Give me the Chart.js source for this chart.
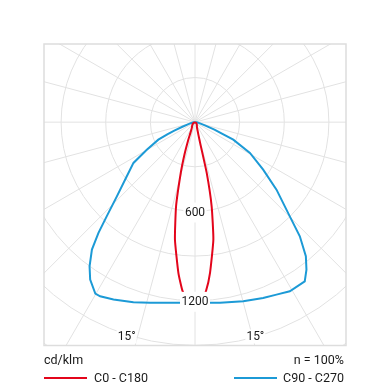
<!DOCTYPE html>
<html>
<head>
<meta charset="utf-8">
<script src="https://cdn.jsdelivr.net/npm/chart.js@4/dist/chart.umd.min.js"></script>
<style>
  html, body { margin: 0; padding: 0; background: #ffffff; }
  #wrap { position: relative; width: 390px; height: 390px; font-family: Roboto, "Liberation Sans", sans-serif; color: #1a1a1a; }
  #c { position: absolute; left: 0; top: 0; }
  .t { position: absolute; font-size: 12.5px; line-height: 14px; white-space: nowrap; }
  .ln { position: absolute; height: 2px; width: 43px; }
</style>
</head>
<body>
<div id="wrap">
  <canvas id="c" width="390" height="390"></canvas>
  <div class="t" id="unit" style="left:44px; top:353px;"></div>
  <div class="t" id="eff" style="right:46px; top:353px; text-align:right;"></div>
  <div class="ln" id="ln0" style="left:44px; top:377px;"></div>
  <div class="t" id="lg0" style="left:94px; top:371px;"></div>
  <div class="ln" id="ln1" style="left:234px; top:377px;"></div>
  <div class="t" id="lg1" style="left:283px; top:371px;"></div>
</div>
<script>
// ---- data (angles in degrees from nadir, negative = left half) ----
const seriesNames = ['C0 - C180', 'C90 - C270'];
const seriesColors = ['#e3051b', '#1c9ad6'];

const anglesC0C180 = [-90, -60, -45, -30, -26, -23, -20.9, -18, -15.7, -12.7, -9.7, -6.3, -4.2, -2, 0,
  2, 3.7, 5.7, 8.9, 11.2, 13, 13.8, 15, 17, 20, 25, 35, 45, 60, 90];
const valuesC0C180 = [0, 12, 25, 42, 55, 80, 125, 230, 353, 579, 800, 1018, 1138, 1195, 1230,
  1195, 1138, 1017, 798, 576, 350, 150, 90, 60, 40, 30, 22, 15, 8, 0];

const anglesC90C270 = [-90, -84, -78, -73, -70, -68, -66.5, -64.5, -60.3, -56.5, -51.6, -46.5, -43.2, -41.1,
  -39, -36.2, -33.7, -30.2, -28.6, -24.7, -18.9, -14, -7.9, 0, 7.9, 15.1, 21.2, 25.3, 29.3, 34.6, 37.1,
  39.6, 42.6, 45.2, 50.4, 55.2, 60.8, 65.4, 67, 69, 72, 78, 84, 90];
const valuesC90C270 = [0, 10, 25, 50, 90, 150, 200, 273, 373, 496, 585, 724, 866, 987,
  1101, 1200, 1270, 1332, 1332, 1311, 1278, 1250, 1225, 1213, 1225, 1246, 1266, 1281, 1302, 1299, 1242,
  1169, 1041, 898, 711, 558, 423, 283, 200, 140, 70, 30, 12, 0];

const ringValues = [300, 600, 900, 1200, 1500, 1800];
const ringLabels = [600, 1200];
const spokeStep = 15;
const angleLabelAngles = [-15, 15];
const angleLabelTexts = ['15°', '15°'];
const angleLabelRadius = 1490;
const unitText = 'cd/klm';
const effText = 'n = 100%';

// ---- build ----
function toXY(angles, values) {
  const pts = [];
  for (let i = 0; i < angles.length; i++) {
    const a = angles[i] * Math.PI / 180;
    pts.push({ x: values[i] * Math.sin(a), y: -values[i] * Math.cos(a) });
  }
  return pts;
}

document.getElementById('unit').textContent = unitText;
document.getElementById('eff').textContent = effText;
document.getElementById('lg0').textContent = seriesNames[0];
document.getElementById('lg1').textContent = seriesNames[1];
document.getElementById('ln0').style.background = seriesColors[0];
document.getElementById('ln1').style.background = seriesColors[1];

const GRID = '#e2e2e2';
const FONT = '12px Roboto, "Liberation Sans", sans-serif';

const polarGrid = {
  id: 'polarGrid',
  beforeDatasetsDraw(chart) {
    const { ctx, chartArea: ca, scales: { x, y } } = chart;
    const cx = x.getPixelForValue(0), cy = y.getPixelForValue(0);
    const k = (x.getPixelForValue(1000) - cx) / 1000;
    ctx.save();
    ctx.beginPath();
    ctx.rect(ca.left, ca.top, ca.right - ca.left, ca.bottom - ca.top);
    ctx.clip();
    ctx.strokeStyle = GRID;
    ctx.lineWidth = 1;
    for (const r of ringValues) {
      ctx.beginPath();
      ctx.arc(cx, cy, r * k, 0, Math.PI * 2);
      ctx.stroke();
    }
    const R = 2500 * k;
    for (let a = 0; a < 360; a += spokeStep) {
      const t = a * Math.PI / 180;
      ctx.beginPath();
      ctx.moveTo(cx, cy);
      ctx.lineTo(cx + R * Math.sin(t), cy + R * Math.cos(t));
      ctx.stroke();
    }
    ctx.restore();
  },
  afterDatasetsDraw(chart) {
    const { ctx, chartArea: ca, scales: { x, y } } = chart;
    const cx = x.getPixelForValue(0);
    ctx.save();
    ctx.font = FONT;
    ctx.textAlign = 'center';
    ctx.textBaseline = 'middle';
    function label(txt, px, py, padX, padY) {
      const w = ctx.measureText(txt).width;
      ctx.fillStyle = '#ffffff';
      ctx.fillRect(px - w / 2 - padX, py - 7 - padY, w + 2 * padX, 14 + 2 * padY);
      ctx.fillStyle = '#1a1a1a';
      ctx.fillText(txt, px, py + 0.5);
    }
    for (const v of ringLabels) {
      label(String(v), cx, y.getPixelForValue(-v) + 1, 1.5, 3);
    }
    for (let i = 0; i < angleLabelAngles.length; i++) {
      const t = angleLabelAngles[i] * Math.PI / 180;
      const px = x.getPixelForValue(angleLabelRadius * Math.sin(t));
      const py = y.getPixelForValue(-angleLabelRadius * Math.cos(t));
      const shift = angleLabelAngles[i] < 0 ? -11 : 3;
      label(angleLabelTexts[i], px + shift, py, 1, 0);
    }
    // frame
    ctx.strokeStyle = '#dddddd';
    ctx.lineWidth = 1.5;
    ctx.strokeRect(ca.left, ca.top, ca.right - ca.left, ca.bottom - ca.top);
    ctx.restore();
  }
};

new Chart(document.getElementById('c'), {
  type: 'scatter',
  data: {
    datasets: [
      {
        label: seriesNames[0],
        data: toXY(anglesC0C180, valuesC0C180),
        showLine: true,
        borderColor: seriesColors[0],
        borderWidth: 2,
        pointRadius: 0,
        tension: 0.15,
        fill: false,
        order: 0
      },
      {
        label: seriesNames[1],
        data: toXY(anglesC90C270, valuesC90C270),
        showLine: true,
        borderColor: seriesColors[1],
        borderWidth: 2,
        pointRadius: 0,
        tension: 0,
        fill: false,
        order: 1
      }
    ]
  },
  options: {
    responsive: false,
    animation: false,
    devicePixelRatio: 1,
    layout: { padding: { left: 44, right: 44, top: 44, bottom: 44.5 } },
    scales: {
      x: { type: 'linear', min: -1015, max: 1015, display: false },
      y: { type: 'linear', min: -1500, max: 525, display: false }
    },
    plugins: { legend: { display: false }, tooltip: { enabled: false } }
  },
  plugins: [polarGrid]
});
</script>
</body>
</html>
